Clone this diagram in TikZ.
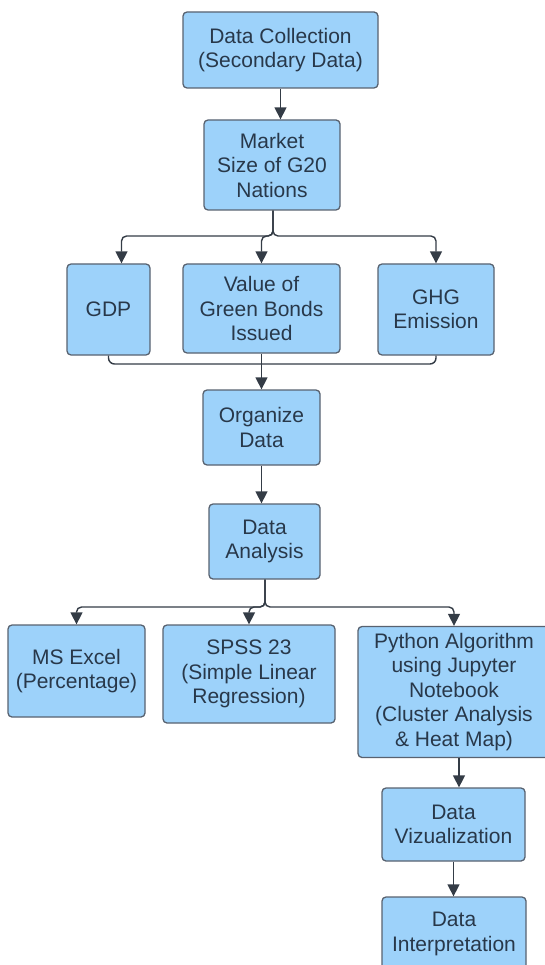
\documentclass[tikz,border=0pt]{standalone}
\usepackage{fontspec}
\setmainfont{Liberation Sans}
\usetikzlibrary{arrows.meta}

\definecolor{boxfill}{RGB}{157,210,250}
\definecolor{boxline}{RGB}{88,98,112}
\definecolor{boxtext}{RGB}{40,56,74}
\definecolor{arrowcol}{RGB}{52,60,70}

\begin{document}
\begin{tikzpicture}[x=1pt,y=-1pt,
    stage/.style={rectangle,rounded corners=4pt,draw=boxline,line width=1.3pt,fill=boxfill,
      text=boxtext,align=center,inner sep=0pt,font=\fontsize{21}{24.5}\selectfont},
    link/.style={draw=arrowcol,line width=1.4pt},
    arr/.style={link,-{Triangle[width=12pt,length=12pt]}}]

\useasboundingbox (0,0) rectangle (545,965);
\clip (0,0) rectangle (545,965);

\node[stage,minimum width=195pt,minimum height=76pt] (collect) at (280.5,50) {Data Collection\\(Secondary Data)};
\node[stage,minimum width=136pt,minimum height=90pt] (market) at (272,165) {Market\\Size of G20\\Nations};

\node[stage,minimum width=83pt,minimum height=91pt] (gdp) at (108.5,309.5) {GDP};
\node[stage,minimum width=157pt,minimum height=89pt] (bonds) at (261.5,308.5) {Value of\\Green Bonds\\Issued};
\node[stage,minimum width=116pt,minimum height=91pt] (ghg) at (436,309.5) {GHG\\Emission};

\node[stage,minimum width=117pt,minimum height=75pt] (organize) at (261.5,427.5) {Organize\\Data};
\node[stage,minimum width=111pt,minimum height=75pt] (analysis) at (264.5,541.5) {Data\\Analysis};

\node[stage,minimum width=137pt,minimum height=92pt] (excel) at (76.5,671) {MS Excel\\(Percentage)};
\node[stage,minimum width=172pt,minimum height=98pt] (spss) at (249,674) {SPSS 23\\(Simple Linear\\Regression)};
\node[stage,minimum width=192pt,minimum height=131pt] (python) at (454,692) {Python Algorithm\\using Jupyter\\Notebook\\(Cluster Analysis\\\& Heat Map)};

\node[stage,minimum width=143pt,minimum height=73pt] (viz) at (453.5,824.5) {Data\\Vizualization};
\node[stage,minimum width=144pt,minimum height=74pt] (interp) at (454,934) {Data\\Interpretation};

\coordinate (split1) at (273,236);
\coordinate (merge) at (262,364);
\coordinate (split2) at (265,607);

\draw[arr] (collect.south) -- (collect.south |- market.north);

\draw[arr,rounded corners=5pt] (market.south -| split1) |- ([xshift=13pt]gdp.north |- split1) -- ([xshift=13pt]gdp.north);
\draw[arr,rounded corners=5pt] (market.south -| split1) |- (bonds.north |- split1) -- (bonds.north);
\draw[arr,rounded corners=5pt] (market.south -| split1) |- (ghg.north |- split1) -- (ghg.north);

\draw[link,rounded corners=6pt] (gdp.south) |- (merge) -| (ghg.south);
\draw[arr] (bonds.south) -- (organize.north);

\draw[arr] (organize.south) -- (organize.south |- analysis.north);

\draw[arr,rounded corners=5pt] (analysis.south -| split2) |- (excel.north |- split2) -- (excel.north);
\draw[arr,rounded corners=5pt] (analysis.south -| split2) |- (spss.north |- split2) -- (spss.north);
\draw[arr,rounded corners=5pt] (analysis.south -| split2) |- (python.north |- split2) -- (python.north);

\draw[arr] ([xshift=5pt]python.south) -- ([xshift=5pt]python.south |- viz.north);
\draw[arr] (viz.south) -- (viz.south |- interp.north);
\end{tikzpicture}
\end{document}
